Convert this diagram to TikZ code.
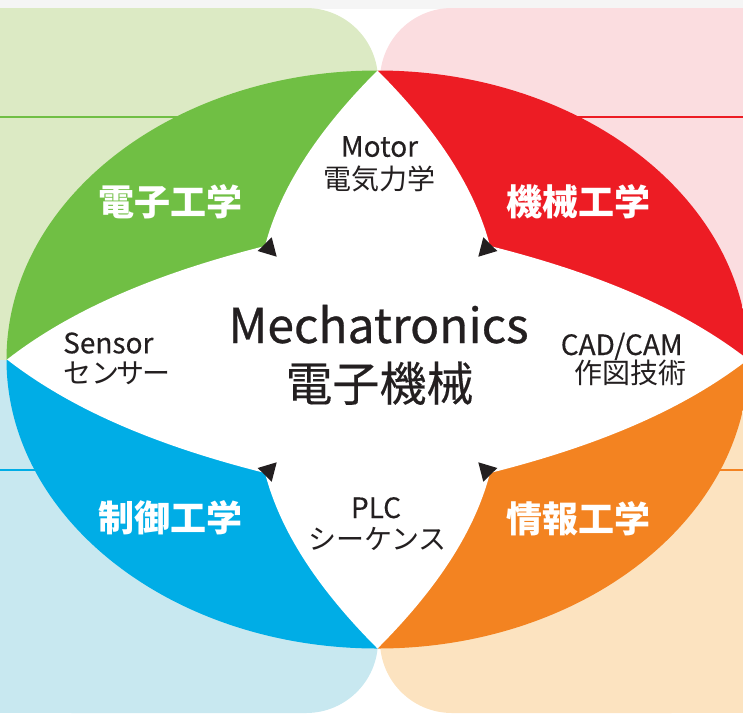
\documentclass[tikz,border=0pt]{standalone}
\usepackage{fontspec}
\setmainfont{Noto Sans CJK JP}
\newfontfamily\heavyfont[FakeBold=0.6]{Noto Sans CJK JP}
\newfontfamily\midfont[FakeBold=0.3]{Noto Sans CJK JP}
\definecolor{lgreen}{RGB}{220,234,196}
\definecolor{lpink}{RGB}{251,221,224}
\definecolor{lblue}{RGB}{200,232,240}
\definecolor{lpeach}{RGB}{252,227,192}
\definecolor{cgreen}{RGB}{112,191,68}
\definecolor{cred}{RGB}{237,28,36}
\definecolor{cblue}{RGB}{0,173,230}
\definecolor{corange}{RGB}{243,131,33}
\definecolor{ink}{RGB}{35,31,32}
\begin{document}
\begin{tikzpicture}[x=1pt,y=-1pt,
  hline/.style={line width=2.5pt},
  petal/.style={text=white,font=\fontsize{36}{40}\selectfont\bfseries},
  latin/.style={text=ink,font=\midfont\fontsize{28}{32}\selectfont,anchor=base},
  kanji/.style={text=ink,font=\fontsize{28}{32}\selectfont,anchor=base},
  tip/.style={fill=ink,draw=none}]
\useasboundingbox (0,0) rectangle (743,713);
% top strip
\fill[gray!8] (0,0) rectangle (743,9);
% background quadrants
\fill[lgreen,rounded corners=72pt] (0,8) -- (378,8) -- (378,359.5) [sharp corners] -- (0,359.5) -- cycle;
\fill[lgreen] (0,8) rectangle (300,359.5);
\fill[lgreen] (0,100) rectangle (378,359.5);
\fill[lpink,rounded corners=72pt] (743,8) -- (380,8) -- (380,359.5) [sharp corners] -- (743,359.5) -- cycle;
\fill[lpink] (460,8) rectangle (743,359.5);
\fill[lpink] (380,100) rectangle (743,359.5);
\fill[lblue,rounded corners=72pt] (0,359.5) -- (378,359.5) -- (378,713) -- (0,713) -- cycle;
\fill[lblue] (0,359.5) rectangle (300,713);
\fill[lblue] (0,359.5) rectangle (378,620);
\fill[lpeach,rounded corners=72pt] (380,359.5) -- (743,359.5) -- (743,713) -- (380,713) -- cycle;
\fill[lpeach] (460,359.5) rectangle (743,713);
\fill[lpeach] (380,359.5) rectangle (743,620);
% horizontal lines
\draw[hline,cgreen] (0,117) -- (250,117);
\draw[hline,cred] (500,117) -- (743,117);
\draw[hline,cblue] (0,470) -- (100,470);
\draw[hline,corange] (650,470) -- (743,470);
% colored ellipse quadrants
\begin{scope}
\clip (377.5,359.5) ellipse [x radius=371, y radius=289];
\fill[cgreen] (0,0) rectangle (377.5,359.5);
\fill[cred] (377.5,0) rectangle (760,359.5);
\fill[cblue] (0,359.5) rectangle (377.5,713);
\fill[corange] (377.5,359.5) rectangle (760,713);
\end{scope}
% white inner shape
\coordinate (T) at (377.5,70.5);
\coordinate (TR) at (490,246);
\coordinate (R) at (748,359.5);
\coordinate (BR) at (490,473);
\coordinate (B) at (377.5,648.5);
\coordinate (BL) at (265,473);
\coordinate (L) at (7,359.5);
\coordinate (TL) at (265,246);
\fill[white] (T) .. controls (438.2,131.2) and (475.2,188.9) .. (TR)
  .. controls (599.5,273.6) and (684.2,309.9) .. (R)
  .. controls (684.2,409.1) and (599.5,445.4) .. (BR)
  .. controls (475.2,530.1) and (438.2,587.8) .. (B)
  .. controls (316.8,587.8) and (279.8,530.1) .. (BL)
  .. controls (155.5,445.4) and (70.8,409.1) .. (L)
  .. controls (70.8,309.9) and (155.5,273.6) .. (TL)
  .. controls (279.8,188.9) and (316.8,131.2) .. cycle;
% arrow tips
\fill[tip] (257.7,251) -- (271.7,237.3) -- (276.7,256.7) -- cycle;
\fill[tip] (497.3,251) -- (483.3,237.3) -- (478.3,256.7) -- cycle;
\fill[tip] (257.7,468) -- (271.7,481.7) -- (276.7,462.3) -- cycle;
\fill[tip] (497.3,468) -- (483.3,481.7) -- (478.3,462.3) -- cycle;
% petal labels
\node[petal] (pg) at (170,202) {電子工学};
\node[petal] (pr) at (578,202) {機械工学};
\node[petal] (pb) at (170,518) {制御工学};
\node[petal] (po) at (578,519) {情報工学};
% center
\node[text=ink,font=\heavyfont\fontsize{48}{54}\selectfont,anchor=base] (mech) at (378.5,343) {Mechatronics};
\node[text=ink,font=\midfont\fontsize{47}{52}\selectfont,anchor=base] (mechj) at (379.5,401) {電子機械};
% small labels
\node[latin] (motor) at (379.5,156.7) {Motor};
\node[kanji] (motorj) at (379,189.5) {電気力学};
\node[latin,anchor=base west,inner sep=0pt] (sensor) at (63,353.3) {Sensor};
\node[kanji,anchor=base west,inner sep=0pt] (sensorj) at (63,383) {セン\kern-3ptサ\kern-2ptー};
\node[latin] (cad) at (621.7,355) {CAD/CAM};
\node[kanji] (cadj) at (630.8,383) {作図技術};
\node[latin] (plc) at (376,518) {PLC};
\node[kanji] (plcj) at (377.5,549.5) {シーケンス};
\end{tikzpicture}
\end{document}
